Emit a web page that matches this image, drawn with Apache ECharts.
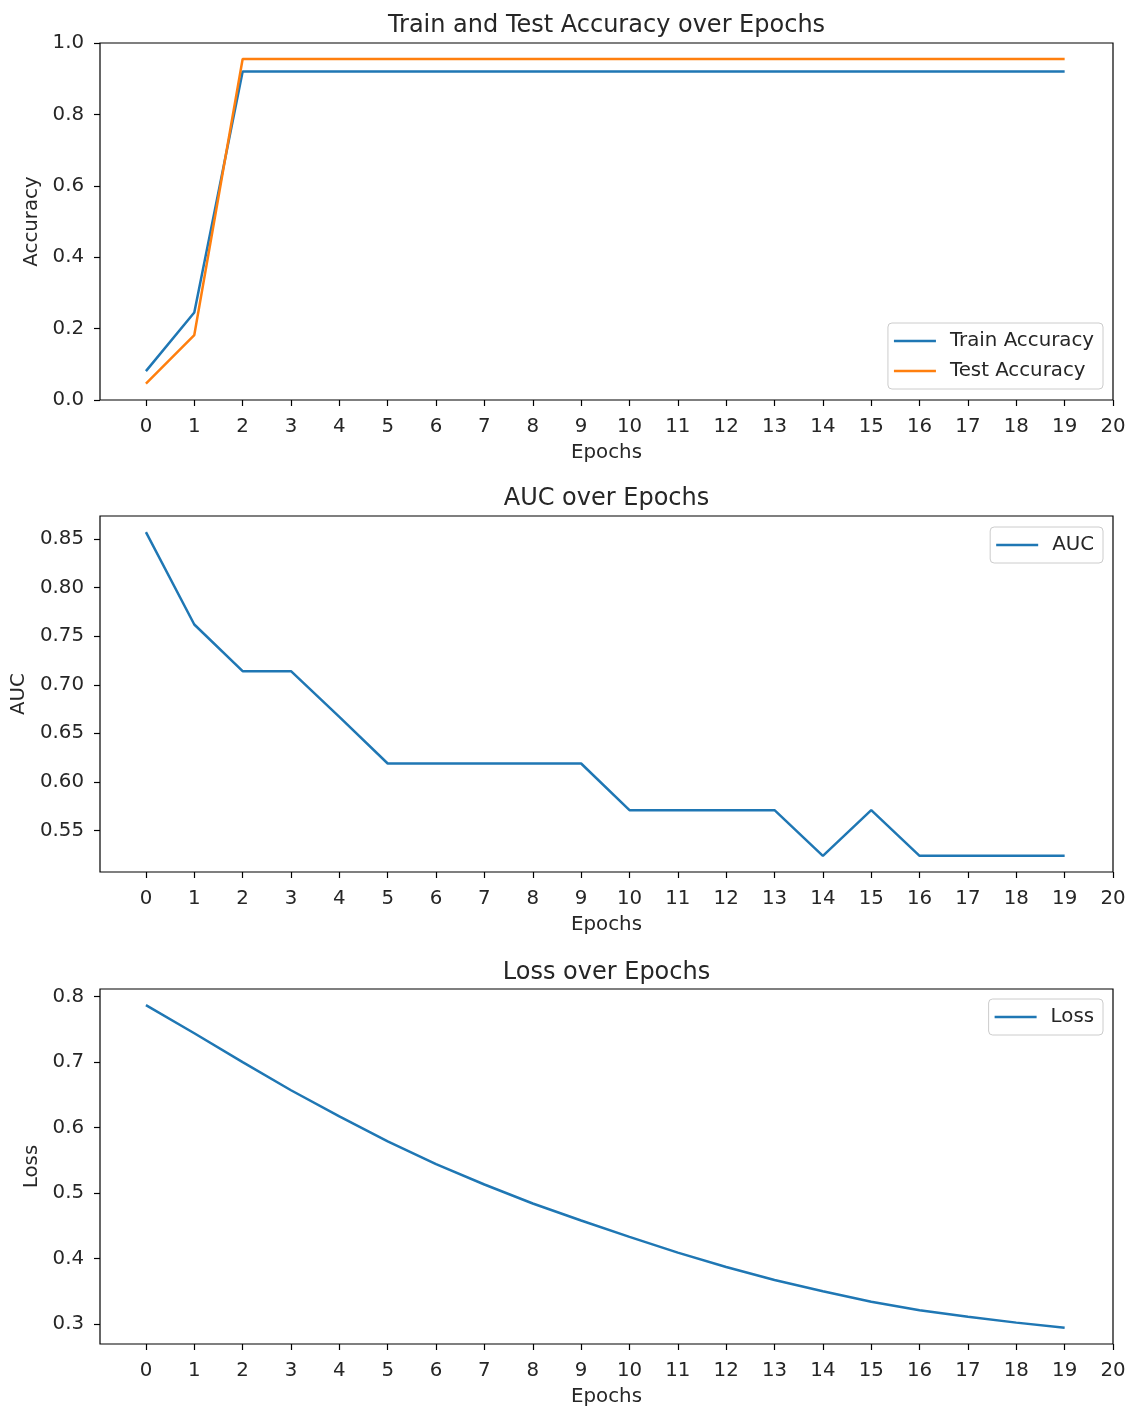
<!DOCTYPE html>
<html>
<head>
<meta charset="utf-8">
<script src="https://cdn.jsdelivr.net/npm/echarts@6/dist/echarts.min.js"></script>
<style>
html,body{margin:0;padding:0;background:#fff;}
#main{width:1131px;height:1408px;}
</style>
</head>
<body>
<div id="main"></div>
<script>
// ---- data ----
const epochs = [0,1,2,3,4,5,6,7,8,9,10,11,12,13,14,15,16,17,18,19];
const trainAccuracy = [0.081,0.245,0.920,0.920,0.920,0.920,0.920,0.920,0.920,0.920,0.920,0.920,0.920,0.920,0.920,0.920,0.920,0.920,0.920,0.920];
const testAccuracy  = [0.046,0.182,0.955,0.955,0.955,0.955,0.955,0.955,0.955,0.955,0.955,0.955,0.955,0.955,0.955,0.955,0.955,0.955,0.955,0.955];
const aucValues = [0.857,0.762,0.714,0.714,0.667,0.619,0.619,0.619,0.619,0.619,0.571,0.571,0.571,0.571,0.524,0.571,0.524,0.524,0.524,0.524];
const lossValues = [0.787,0.744,0.700,0.657,0.617,0.579,0.544,0.513,0.484,0.458,0.433,0.409,0.387,0.367,0.350,0.334,0.321,0.311,0.302,0.294];
const xTicks = [0,1,2,3,4,5,6,7,8,9,10,11,12,13,14,15,16,17,18,19,20];
const accTicks = [0,0.2,0.4,0.6,0.8,1.0];
const aucTicks = [0.55,0.60,0.65,0.70,0.75,0.80,0.85];
const lossTicks = [0.3,0.4,0.5,0.6,0.7,0.8];
const titles = ['Train and Test Accuracy over Epochs','AUC over Epochs','Loss over Epochs'];
const yNames = ['Accuracy','AUC','Loss'];

// ---- helpers ----
const FONT = 'DejaVu Sans';
const TXT = '#262626';
const FS = 19.8;
const pairs = (ys) => epochs.map((e,i)=>[e, ys[i]]);
function pad(arr){ const lo=Math.min(...arr), hi=Math.max(...arr), r=hi-lo; return [lo-0.05*r, hi+0.05*r]; }

const grids = [
  {left:100, top:43, width:1013, height:357},
  {left:100, top:516, width:1013, height:356},
  {left:100, top:989, width:1013, height:357}
];
const xAxisBase = (gi) => ({
  type:'value', gridIndex:gi, min:-0.95, max:20,
  name:'Epochs', nameLocation:'middle', nameGap:43,
  nameTextStyle:{fontFamily:FONT, fontSize:FS, color:TXT},
  axisLine:{show:false, onZero:false},
  axisTick:{show:true, length:6, customValues:xTicks, lineStyle:{color:'#000', width:1.2}},
  axisLabel:{customValues:xTicks, margin:17, fontFamily:FONT, fontSize:FS, color:TXT, showMaxLabel:true, showMinLabel:true},
  splitLine:{show:false}
});
const aucRange = pad(aucValues);
const lossRange = pad(lossValues);
const yCfg = [
  {min:0, max:1, ticks:accTicks, dec:1, gap:57},
  {min:aucRange[0], max:aucRange[1], ticks:aucTicks, dec:2, gap:70},
  {min:lossRange[0], max:lossRange[1], ticks:lossTicks, dec:1, gap:56}
];
const yAxes = yCfg.map((c,gi)=>({
  type:'value', gridIndex:gi, min:c.min, max:c.max,
  name:yNames[gi], nameLocation:'middle', nameGap:c.gap,
  nameTextStyle:{fontFamily:FONT, fontSize:FS, color:TXT},
  axisLine:{show:false, onZero:false},
  axisTick:{show:true, length:6, customValues:c.ticks, lineStyle:{color:'#000', width:1.2}},
  axisLabel:{customValues:c.ticks, margin:16, fontFamily:FONT, fontSize:FS, color:TXT,
    formatter:(v)=>Number(v).toFixed(c.dec), showMaxLabel:true, showMinLabel:true},
  splitLine:{show:false}
}));
const titleTops = [9, 482, 956];
const legendTops = [323, 527, 999];
const legendData = [['Train Accuracy','Test Accuracy'],['AUC'],['Loss']];

const lineSeries = (name, ys, gi, color) => ({
  name, type:'line', xAxisIndex:gi, yAxisIndex:gi, data:pairs(ys),
  showSymbol:false, symbol:'none', lineStyle:{color, width:2.5}, itemStyle:{color},
  animation:false, silent:true
});

const option = {
  backgroundColor:'#fff',
  animation:false,
  title: titles.map((t,i)=>({text:t, left:601.5, top:titleTops[i], textAlign:'center',
    textStyle:{fontFamily:FONT, fontSize:24, fontWeight:'normal', color:TXT}})),
  grid: grids.map(g=>Object.assign({show:true, borderColor:'#000', borderWidth:1.2, backgroundColor:'transparent'}, g)),
  xAxis: [xAxisBase(0), xAxisBase(1), xAxisBase(2)],
  yAxis: yAxes,
  legend: legendData.map((d,i)=>({
    data:d, orient:'vertical', right:28, top:legendTops[i],
    backgroundColor:'rgba(255,255,255,0.8)', borderColor:'#cccccc', borderWidth:1, borderRadius:4,
    padding:[8,9,8,6], itemGap:10, itemWidth:42, itemHeight:2.5, icon:'rect',
    textStyle:{fontFamily:FONT, fontSize:FS, color:TXT, padding:[0,0,0,9]},
    selectedMode:false
  })),
  series: [
    lineSeries('Train Accuracy', trainAccuracy, 0, '#1f77b4'),
    lineSeries('Test Accuracy', testAccuracy, 0, '#ff7f0e'),
    lineSeries('AUC', aucValues, 1, '#1f77b4'),
    lineSeries('Loss', lossValues, 2, '#1f77b4')
  ]
};
const chart = echarts.init(document.getElementById('main'), null, {renderer:'canvas'});
chart.setOption(option);
</script>
</body>
</html>
